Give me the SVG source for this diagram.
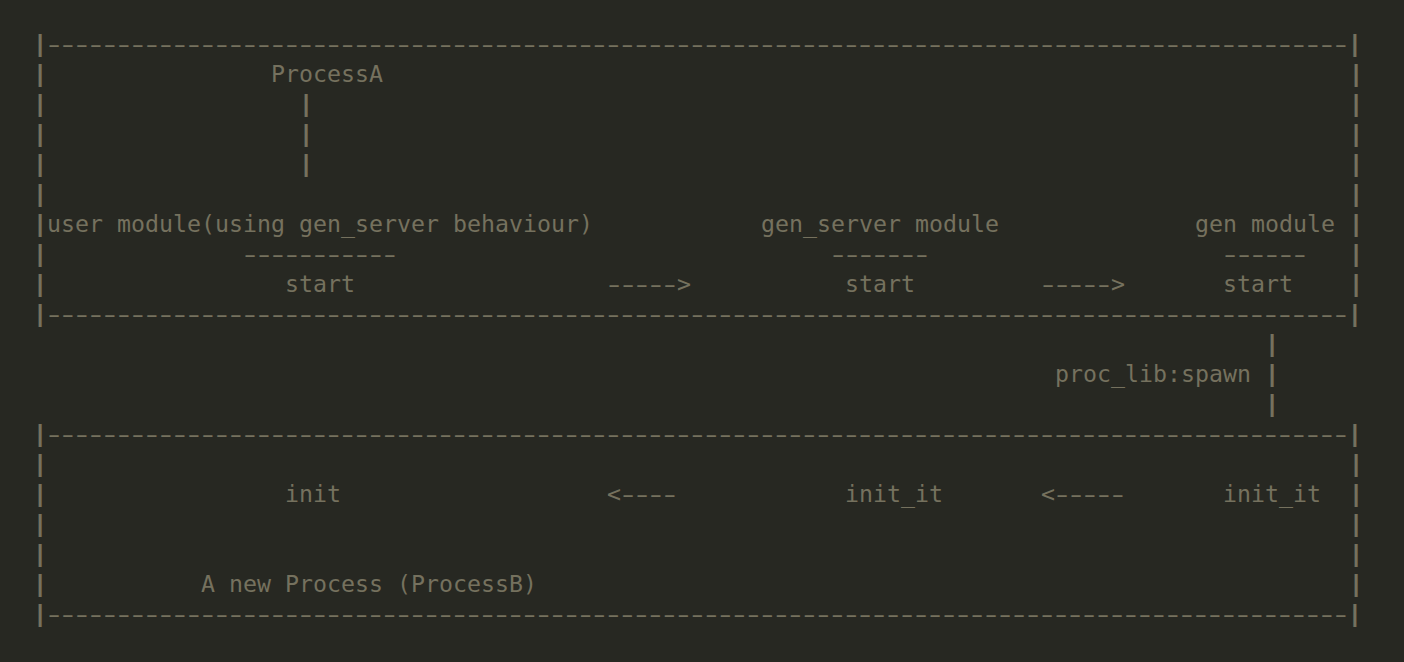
<svg xmlns="http://www.w3.org/2000/svg" width="1404" height="662" viewBox="0 0 1404 662">
<style>
.t{font-family:"DejaVu Sans Mono","Liberation Mono",monospace;font-size:23.25px;fill:#75715e;white-space:pre}
.s{font-family:"DejaVu Sans Mono","Liberation Mono",monospace;font-size:23.25px;letter-spacing:-4.968px;fill:#75715e;white-space:pre}
.lt{letter-spacing:-4px}
</style>
<rect x="0" y="0" width="1404" height="662" fill="#272822"/>
<g id="processA-box">
<text class="s" transform="translate(29.15,52) scale(1.55,1)">|---------------------------------------------------------------------------------------------|</text>
<text class="s" transform="translate(29.15,82) scale(1.55,1)">|</text><text class="s" transform="translate(1345.15,82) scale(1.55,1)">|</text>
<text class="s" transform="translate(29.15,112) scale(1.55,1)">|</text><text class="s" transform="translate(1345.15,112) scale(1.55,1)">|</text>
<text class="s" transform="translate(29.15,142) scale(1.55,1)">|</text><text class="s" transform="translate(1345.15,142) scale(1.55,1)">|</text>
<text class="s" transform="translate(29.15,172) scale(1.55,1)">|</text><text class="s" transform="translate(1345.15,172) scale(1.55,1)">|</text>
<text class="s" transform="translate(29.15,202) scale(1.55,1)">|</text><text class="s" transform="translate(1345.15,202) scale(1.55,1)">|</text>
<text class="s" transform="translate(29.15,232) scale(1.55,1)">|</text><text class="s" transform="translate(1345.15,232) scale(1.55,1)">|</text>
<text class="s" transform="translate(29.15,262) scale(1.55,1)">|</text><text class="s" transform="translate(1345.15,262) scale(1.55,1)">|</text>
<text class="s" transform="translate(29.15,292) scale(1.55,1)">|</text><text class="s" transform="translate(1345.15,292) scale(1.55,1)">|</text>
<text class="s" transform="translate(29.15,322) scale(1.55,1)">|---------------------------------------------------------------------------------------------|</text>
</g>
<g id="processA">
<text class="t" x="271" y="82">ProcessA</text>
</g>
<g id="user-module">
<text class="t" x="47" y="232">user module(using gen_server behaviour)</text>
<text class="s" transform="translate(239.15,262) scale(1.55,1)">-----------</text>
<text class="t" x="285" y="292">start</text>
</g>
<g id="gen-server-module">
<text class="t" x="761" y="232">gen_server module</text>
<text class="s" transform="translate(827.15,262) scale(1.55,1)">-------</text>
<text class="t" x="845" y="292">start</text>
</g>
<g id="gen-module">
<text class="t" x="1195" y="232">gen module</text>
<text class="s" transform="translate(1219.15,262) scale(1.55,1)">------</text>
<text class="t" x="1223" y="292">start</text>
</g>
<g id="processB-box">
<text class="s" transform="translate(29.15,442) scale(1.55,1)">|---------------------------------------------------------------------------------------------|</text>
<text class="s" transform="translate(29.15,472) scale(1.55,1)">|</text><text class="s" transform="translate(1345.15,472) scale(1.55,1)">|</text>
<text class="s" transform="translate(29.15,502) scale(1.55,1)">|</text><text class="s" transform="translate(1345.15,502) scale(1.55,1)">|</text>
<text class="s" transform="translate(29.15,532) scale(1.55,1)">|</text><text class="s" transform="translate(1345.15,532) scale(1.55,1)">|</text>
<text class="s" transform="translate(29.15,562) scale(1.55,1)">|</text><text class="s" transform="translate(1345.15,562) scale(1.55,1)">|</text>
<text class="s" transform="translate(29.15,592) scale(1.55,1)">|</text><text class="s" transform="translate(1345.15,592) scale(1.55,1)">|</text>
<text class="s" transform="translate(29.15,622) scale(1.55,1)">|---------------------------------------------------------------------------------------------|</text>
<text class="t" x="201" y="592">A new Process (ProcessB)</text>
</g>
<g id="init">
<text class="t" x="285" y="502">init</text>
</g>
<g id="gen-server-init-it">
<text class="t" x="845" y="502">init_it</text>
</g>
<g id="gen-init-it">
<text class="t" x="1223" y="502">init_it</text>
</g>
<g id="connectors">
<text class="s" transform="translate(295.15,112) scale(1.55,1)">|</text>
<text class="s" transform="translate(295.15,142) scale(1.55,1)">|</text>
<text class="s" transform="translate(295.15,172) scale(1.55,1)">|</text>
<text class="s" transform="translate(603.15,292) scale(1.55,1)">-----</text><text class="t" x="677" y="292">&gt;</text>
<text class="s" transform="translate(1037.15,292) scale(1.55,1)">-----</text><text class="t" x="1111" y="292">&gt;</text>
<text class="s" transform="translate(1261.15,352) scale(1.55,1)">|</text>
<text class="t" x="1055" y="382">proc_lib:spawn</text>
<text class="s" transform="translate(1261.15,382) scale(1.55,1)">|</text>
<text class="s" transform="translate(1261.15,412) scale(1.55,1)">|</text>
<text class="t lt" x="607" y="502">&lt;</text><text class="s" transform="translate(617.15,502) scale(1.55,1)">----</text>
<text class="t lt" x="1041" y="502">&lt;</text><text class="s" transform="translate(1051.15,502) scale(1.55,1)">-----</text>
</g>
</svg>
